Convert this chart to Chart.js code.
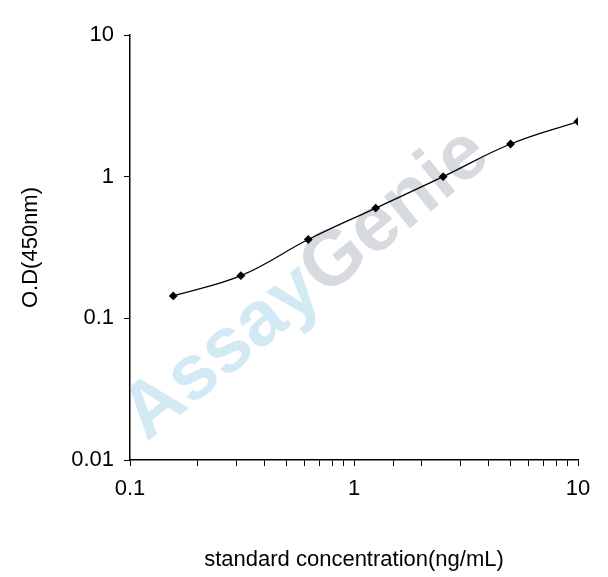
<!DOCTYPE html>
<html>
<head>
<meta charset="utf-8">
<script src="https://cdn.jsdelivr.net/npm/chart.js@4/dist/chart.umd.min.js"></script>
<style>
  html, body { margin: 0; padding: 0; background: #fff; }
  #wrap { width: 608px; height: 577px; }
</style>
</head>
<body>
<div id="wrap"><canvas id="c" width="608" height="577"></canvas></div>
<script>
// standard curve data
const concentrations = [0.156, 0.3125, 0.625, 1.25, 2.5, 5, 10];
const odValues = [0.144, 0.2, 0.36, 0.6, 1.0, 1.7, 2.45];
const xMajor = [0.1, 1, 10];
const yMajor = [0.01, 0.1, 1, 10];

const watermark = {
    id: 'watermark',
    beforeDatasetsDraw(chart) {
        const ctx = chart.ctx;
        ctx.save();
        ctx.translate(300, 290);
        ctx.rotate(-Math.PI / 4.6);
        ctx.font = 'bold 78px "Liberation Sans", Arial, sans-serif';
        ctx.textBaseline = 'middle';
        ctx.fillStyle = 'rgba(140,200,230,0.38)';
        ctx.fillText('Assay', -215, 0);
        const w = ctx.measureText('Assay').width;
        ctx.fillStyle = 'rgba(150,160,170,0.38)';
        ctx.fillText('Genie', -215 + w, 0);
        ctx.restore();
    }
};

const font = { family: '"Liberation Sans", Arial, sans-serif', size: 22 };

new Chart(document.getElementById('c'), {
    type: 'scatter',
    data: {
        datasets: [{
            data: concentrations.map((x, i) => ({ x, y: odValues[i] })),
            showLine: true,
            tension: 0.4,
            borderColor: '#000',
            borderWidth: 1.3,
            pointStyle: 'rectRot',
            pointRadius: 3.5,
            pointBackgroundColor: '#000',
            pointBorderColor: '#000'
        }]
    },
    options: {
        responsive: false,
        animation: false,
        layout: { padding: { top: 35, right: 30, left: 14, bottom: 0 } },
        plugins: { legend: { display: false }, tooltip: { enabled: false } },
        scales: {
            x: {
                type: 'logarithmic', min: 0.1, max: 10,
                afterFit(s) { s.height = 117; },
                border: { color: '#000', width: 1.5 },
                grid: { drawOnChartArea: false, color: '#000', tickLength: 6 },
                ticks: {
                    color: '#000', font, padding: 10, autoSkip: false, maxRotation: 0,
                    callback: v => xMajor.includes(v) ? String(v) : ''
                },
                title: { display: true, text: 'standard concentration(ng/mL)', color: '#000', font, padding: { top: 14 } }
            },
            y: {
                type: 'logarithmic', min: 0.01, max: 10,
                afterFit(s) { s.width = 116; },
                afterBuildTicks(s) { s.ticks = yMajor.map(v => ({ value: v })); },
                border: { color: '#000', width: 1.5 },
                grid: { drawOnChartArea: false, color: '#000', tickLength: 6 },
                ticks: { color: '#000', font, padding: 10, callback: v => String(v) },
                title: { display: true, text: 'O.D(450nm)', color: '#000', font, padding: { bottom: 10 } }
            }
        }
    },
    plugins: [watermark]
});
</script>
</body>
</html>
